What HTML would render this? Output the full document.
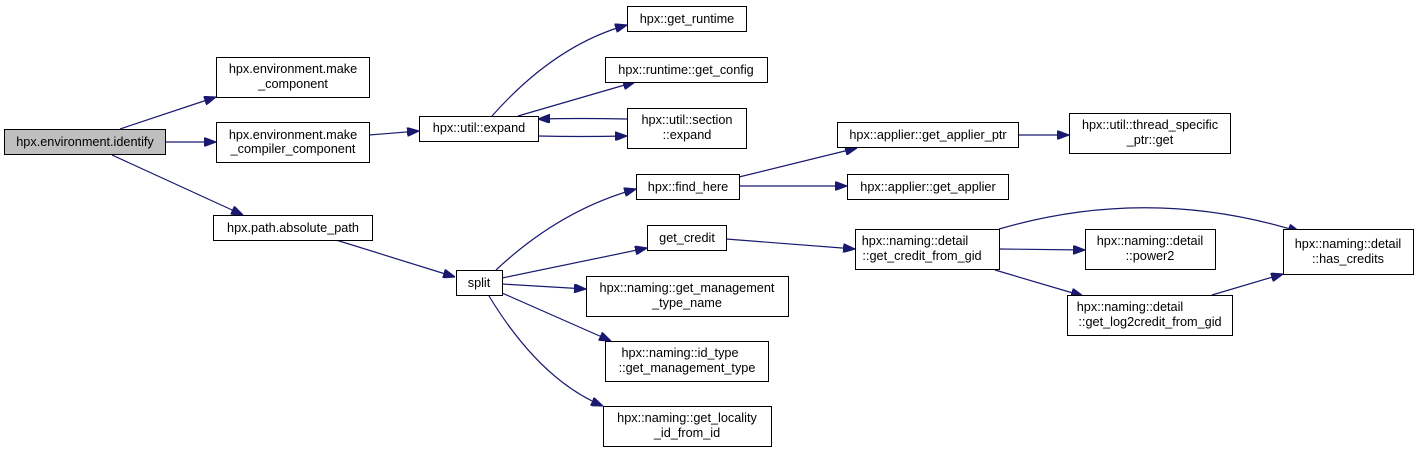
<!DOCTYPE html>
<html><head><meta charset="utf-8"><style>
body{margin:0;background:#fff}
svg{display:block}
text{font-family:"Liberation Sans",sans-serif;font-size:12.7px;fill:#000;text-anchor:middle}
rect{fill:#fff;stroke:#000;stroke-width:1}
path{fill:none;stroke:#191970;stroke-width:1.2}
</style></head><body>
<svg width="1419" height="453" viewBox="0 0 1419 453">
<defs><marker id="a" markerWidth="12" markerHeight="9" refX="12" refY="4.5" orient="auto" markerUnits="userSpaceOnUse"><path d="M0,0 L12,4.5 L0,9 Z" style="fill:#191970;stroke:#191970"/></marker></defs>
<g marker-end="url(#a)">
<path d="M120,129 L216,97"/>
<path d="M166,142 L216,142"/>
<path d="M112,155 L243,215"/>
<path d="M369,135 L419,131"/>
<path d="M492,116 Q555,45 627,25"/>
<path d="M518,116 L635,82"/>
<path d="M627,119 Q580,118 538,119"/>
<path d="M538,136 Q580,137 627,136"/>
<path d="M336,240 L455,277"/>
<path d="M496,270 Q560,210 636,189"/>
<path d="M502,278 L647,248"/>
<path d="M502,284 L586,289"/>
<path d="M502,293 L611,341"/>
<path d="M489,296 Q540,380 603,406"/>
<path d="M739,177 L857,148"/>
<path d="M739,186 L847,186"/>
<path d="M726,239 L855,249"/>
<path d="M999,229 Q1150,185 1300,232"/>
<path d="M999,249 L1085,250"/>
<path d="M995,270 L1083,296"/>
<path d="M1212,295 L1283,274"/>
<path d="M1018,135 L1069,135"/>
</g>
<rect x="4.5" y="129.5" width="161" height="25" style="fill:#bfbfbf"/><text x="85" y="146">hpx.environment.identify</text>
<rect x="216.5" y="57.5" width="153" height="40"/><text x="293" y="73">hpx.environment.make</text><text x="293" y="88">_component</text>
<rect x="216.5" y="122.5" width="153" height="40"/><text x="293" y="139">hpx.environment.make</text><text x="293" y="153">_compiler_component</text>
<rect x="419.5" y="116.5" width="119" height="25"/><text x="479" y="132">hpx::util::expand</text>
<rect x="213.5" y="215.5" width="159" height="25"/><text x="293" y="232">hpx.path.absolute_path</text>
<rect x="456.5" y="270.5" width="46" height="25"/><text x="479" y="287">split</text>
<rect x="627.5" y="6.5" width="119" height="25"/><text x="687" y="23">hpx::get_runtime</text>
<rect x="605.5" y="57.5" width="162" height="25"/><text x="686" y="74">hpx::runtime::get_config</text>
<rect x="627.5" y="108.5" width="119" height="40"/><text x="687" y="124">hpx::util::section</text><text x="687" y="139">::expand</text>
<rect x="636.5" y="174.5" width="103" height="25"/><text x="688" y="191">hpx::find_here</text>
<rect x="647.5" y="225.5" width="79" height="25"/><text x="687" y="242">get_credit</text>
<rect x="586.5" y="276.5" width="202" height="40"/><text x="687" y="292">hpx::naming::get_management</text><text x="687" y="307">_type_name</text>
<rect x="605.5" y="341.5" width="163" height="40"/><text x="680" y="357">hpx::naming::id_type</text><text x="687" y="372">::get_management_type</text>
<rect x="603.5" y="406.5" width="168" height="40"/><text x="687" y="422">hpx::naming::get_locality</text><text x="687" y="437">_id_from_id</text>
<rect x="837.5" y="122.5" width="181" height="25"/><text x="928" y="139">hpx::applier::get_applier_ptr</text>
<rect x="1069.5" y="113.5" width="161" height="40"/><text x="1150" y="129">hpx::util::thread_specific</text><text x="1150" y="144">_ptr::get</text>
<rect x="847.5" y="174.5" width="161" height="25"/><text x="928" y="191">hpx::applier::get_applier</text>
<rect x="855.5" y="229.5" width="144" height="40"/><text x="915" y="245">hpx::naming::detail</text><text x="922" y="260">::get_credit_from_gid</text>
<rect x="1085.5" y="229.5" width="130" height="40"/><text x="1150" y="245">hpx::naming::detail</text><text x="1150" y="260">::power2</text>
<rect x="1283.5" y="229.5" width="130" height="45"/><text x="1348" y="248">hpx::naming::detail</text><text x="1348" y="263">::has_credits</text>
<rect x="1067.5" y="295.5" width="165" height="40"/><text x="1130" y="311">hpx::naming::detail</text><text x="1150" y="326">::get_log2credit_from_gid</text>
</svg>
</body></html>
